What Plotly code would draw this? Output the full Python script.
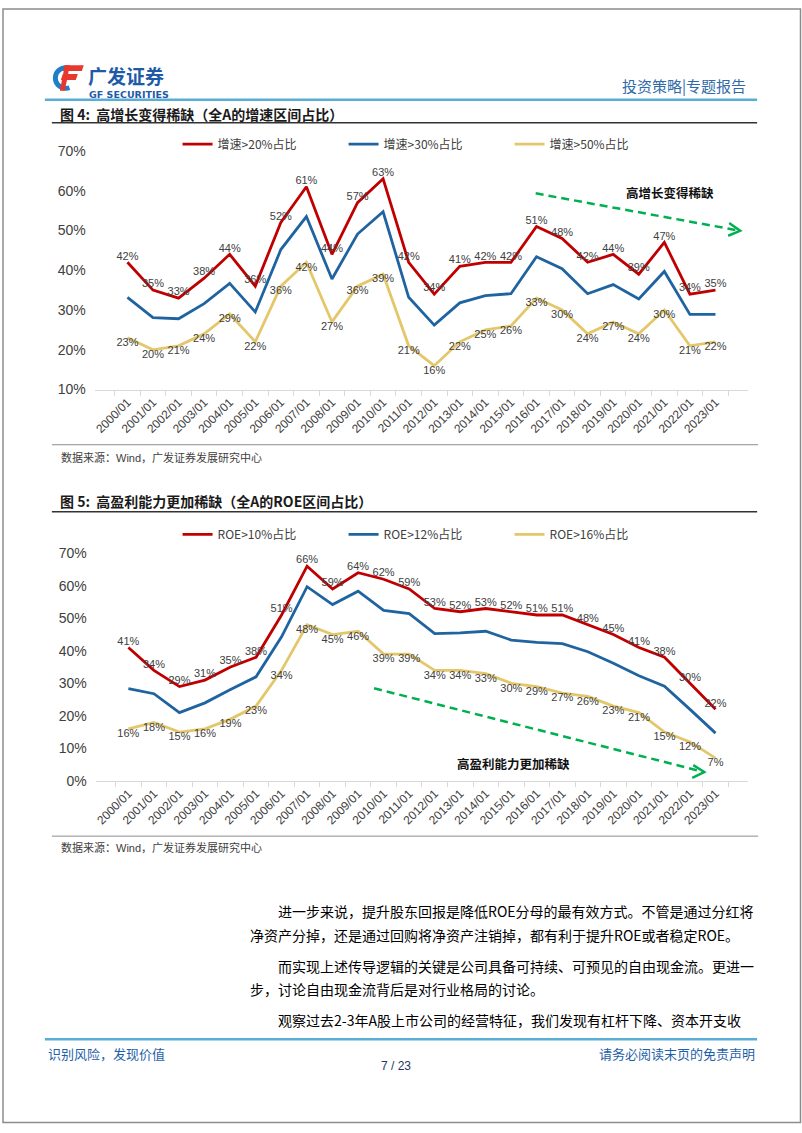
import math
import plotly.graph_objects as go

# page geometry (reference pixels); the body margin is removed after plotting
OFF = 0
FW, FH = 802, 1133

years = [f"{y}/01" for y in range(2000, 2024)]

# Chart 4: growth-interval shares (%)
growth_gt20 = [42, 35, 33, 38, 44, 36, 52, 61, 44, 57, 63, 42, 34, 41, 42, 42, 51, 48, 42, 44, 39, 47, 34, 35]
growth_gt30 = [33.2, 28.1, 27.8, 31.6, 36.7, 29.5, 45.2, 53.5, 37.8, 49.1, 54.7, 33.2, 26.2, 31.8, 33.6, 34.1,
               43.4, 40.4, 34.1, 36.4, 32.8, 39.7, 28.9, 28.9]
growth_gt50 = [23, 20, 21, 24, 29, 22, 36, 42, 27, 36, 39, 21, 16, 22, 25, 26, 33, 30, 24, 27, 24, 30, 21, 22]

# Chart 5: ROE-interval shares (%)
roe_gt10 = [41, 34, 29, 31, 35, 38, 51, 66, 59, 64, 62, 59, 53, 52, 53, 52, 51, 51, 48, 45, 41, 38, 30, 22]
roe_gt12 = [28.4, 26.8, 21.0, 24.0, 28.1, 32.0, 44.3, 59.7, 54.2, 58.3, 52.4, 51.4, 45.3, 45.5, 46.0, 43.3,
            42.6, 42.2, 39.7, 36.2, 32.3, 29.1, 22.0, 14.7]
roe_gt16 = [16, 18, 15, 16, 19, 23, 34, 48, 45, 46, 39, 39, 34, 34, 33, 30, 29, 27, 26, 23, 21, 15, 12, 7]

names1 = ["增速>20%占比", "增速>30%占比", "增速>50%占比"]
names2 = ["ROE>10%占比", "ROE>12%占比", "ROE>16%占比"]

RED, BLUE, GOLD, GREEN = "#C00000", "#1F64A0", "#E3C76A", "#00B050"
TXT = "#404040"
LAT = "Liberation Sans, Arial, sans-serif"
CJK = "Noto Sans CJK SC, sans-serif"


def px(x):
    return (x - OFF) / FW


def py(y):
    return 1 - (y - OFF) / FH


fig = go.Figure()


def add_series(vals, name, color, xa, ya, legend, label_pos):
    fig.add_trace(go.Scatter(
        x=years, y=vals, name=name, xaxis=xa, yaxis=ya, legend=legend,
        mode="lines+text" if label_pos else "lines",
        text=[f"{v:.0f}%" for v in vals] if label_pos else None,
        textposition=label_pos,
        textfont=dict(family=LAT, size=11, color=TXT),
        line=dict(color=color, width=2.8),
        cliponaxis=False, hoverinfo="skip",
    ))


add_series(growth_gt20, names1[0], RED, "x", "y", "legend", "top center")
add_series(growth_gt30, names1[1], BLUE, "x", "y", "legend", None)
add_series(growth_gt50, names1[2], GOLD, "x", "y", "legend", "bottom center")
add_series(roe_gt10, names2[0], RED, "x2", "y2", "legend2", "top center")
add_series(roe_gt12, names2[1], BLUE, "x2", "y2", "legend2", None)
add_series(roe_gt16, names2[2], GOLD, "x2", "y2", "legend2", "bottom center")

xcommon = dict(type="category", showline=True, linecolor="#D9D9D9", linewidth=1,
               ticks="outside", tickson="boundaries", ticklen=5, tickcolor="#D9D9D9",
               tickangle=-45, tickfont=dict(family=LAT, size=12, color=TXT),
               showgrid=False, zeroline=False, fixedrange=True)
ycommon = dict(showline=False, showgrid=False, zeroline=False, ticks="", dtick=10,
               ticksuffix="%", tickfont=dict(family=LAT, size=14, color=TXT),
               ticklabelstandoff=8, fixedrange=True)

legcommon = dict(orientation="h", xanchor="left", yanchor="middle",
                 font=dict(family=CJK, size=12, color=TXT), bgcolor="rgba(0,0,0,0)",
                 entrywidth=121, entrywidthmode="pixels", itemclick=False)

fig.update_layout(
    width=FW, height=FH, margin=dict(l=0, r=0, t=0, b=0),
    paper_bgcolor="white", plot_bgcolor="white", showlegend=True,
    xaxis=dict(domain=[px(93), px(748)], anchor="y", **xcommon),
    yaxis=dict(domain=[py(387), py(145)], range=[10, 70], anchor="x", **ycommon),
    xaxis2=dict(domain=[px(94), px(748)], anchor="y2", **xcommon),
    yaxis2=dict(domain=[py(784), py(553)], range=[0, 70], anchor="x2", **ycommon),
    legend=dict(x=px(176), y=py(138), **legcommon),
    legend2=dict(x=px(176), y=py(534), **legcommon),
)

shapes = []
annos = []


def hline(y, x0, x1, color, width):
    shapes.append(dict(type="line", xref="paper", yref="paper", x0=px(x0), x1=px(x1),
                       y0=py(y), y1=py(y), line=dict(color=color, width=width)))


def text(x, y, s, size, color, anchor="left", bold=False, family=CJK):
    if bold:
        s = f"<b>{s}</b>"
    annos.append(dict(xref="paper", yref="paper", x=px(x), y=py(y), text=s, showarrow=False,
                      xanchor=anchor, yanchor="middle", font=dict(family=family, size=size, color=color)))


def poly(pts, color):
    d = "M " + " L ".join(f"{px(a)},{py(b)}" for a, b in pts) + " Z"
    shapes.append(dict(type="path", xref="paper", yref="paper", path=d, fillcolor=color, line=dict(width=0)))


# page border
shapes.append(dict(type="rect", xref="paper", yref="paper", x0=px(1), x1=px(800.5), y0=py(1), y1=py(1130.5),
                   line=dict(color="#8C8C8C", width=1.5)))

# header
hline(93, 43, 757, "#5AAED6", 2.5)
text(748, 79, "投资策略|专题报告", 15, "#2F6BA8", anchor="right")

# logo icon: blue ring segment + red F
cx, cy = 64, 71
outer = [(cx + 13 * math.cos(math.radians(a)), cy + 13 * math.sin(math.radians(a))) for a in range(70, 300, 10)]
inner = [(cx + 8 * math.cos(math.radians(a)), cy + 8 * math.sin(math.radians(a))) for a in range(290, 60, -10)]
poly(outer + inner, "#1E7FC8")
poly([(63, 58), (82, 58), (80, 64), (61, 64)], "#E8382E")
poly([(61, 67), (76, 67), (74, 73), (59, 73)], "#E8382E")
poly([(63, 58), (68, 58), (63, 84), (58, 84)], "#E8382E")
text(84, 68, "广发证券", 19, "#1E5AA8", bold=True)
text(85, 88, "GF SECURITIES", 9.5, "#1E5AA8", bold=True, family="DejaVu Sans, sans-serif")

# chart 4 frame texts
text(56, 108, "图 4:  高增长变得稀缺（全A的增速区间占比）", 14, "#1A1A1A", bold=True)
hline(116.5, 50, 757, "#333333", 1.5)
hline(443, 50, 758, "#8C8C8C", 1)
text(57, 455, "数据来源：<span style='font-family:Liberation Sans'>Wind</span>，广发证券发展研究中心", 11, TXT)

# chart 5 frame texts
text(56, 500, "图 5:  高盈利能力更加稀缺（全A的ROE区间占比）", 14, "#1A1A1A", bold=True)
hline(511, 50, 757, "#333333", 1.5)
hline(840, 50, 758, "#8C8C8C", 1)
text(57, 851, "数据来源：<span style='font-family:Liberation Sans'>Wind</span>，广发证券发展研究中心", 11, TXT)


# trend arrows
def arrow(x0, y0, x1, y1, wing1, wing2):
    shapes.append(dict(type="line", xref="paper", yref="paper", x0=px(x0), y0=py(y0), x1=px(x1), y1=py(y1),
                       line=dict(color=GREEN, width=2.5, dash="8px,5px")))
    d = f"M {px(wing1[0])},{py(wing1[1])} L {px(x1)},{py(y1)} L {px(wing2[0])},{py(wing2[1])}"
    shapes.append(dict(type="path", xref="paper", yref="paper", path=d, line=dict(color=GREEN, width=2.5)))


arrow(535, 188, 740, 226, (729, 218), (728, 231))
text(670, 187, "高增长变得稀缺", 12.5, "#111111", anchor="center", bold=True)
arrow(373, 690, 704, 775, (693, 768), (692, 781))
text(513, 766, "高盈利能力更加稀缺", 12.5, "#111111", anchor="center", bold=True)

# body text
body = [
    (275, 916, "进一步来说，提升股东回报是降低ROE分母的最有效方式。不管是通过分红将"),
    (247, 940, "净资产分掉，还是通过回购将净资产注销掉，都有利于提升ROE或者稳定ROE。"),
    (275, 972, "而实现上述传导逻辑的关键是公司具备可持续、可预见的自由现金流。更进一"),
    (247, 995, "步，讨论自由现金流背后是对行业格局的讨论。"),
    (275, 1027, "观察过去2-3年A股上市公司的经营特征，我们发现有杠杆下降、资本开支收"),
]
for x, y, s in body:
    text(x, y, s, 14, "#000000")

# footer
hline(1046, 43, 757, "#5AAED6", 2.5)
text(44, 1060, "识别风险，发现价值", 13, "#1F5FA8")
text(757, 1060, "请务必阅读末页的免责声明", 13, "#1F5FA8", anchor="right")
text(395, 1073, "7 / 23", 12, "#1F3864", anchor="center", family=LAT)

fig.update_layout(shapes=shapes, annotations=annos)
fig.write_html("out.html", config={"displayModeBar": False},
               post_script="document.body.style.margin='0';")
